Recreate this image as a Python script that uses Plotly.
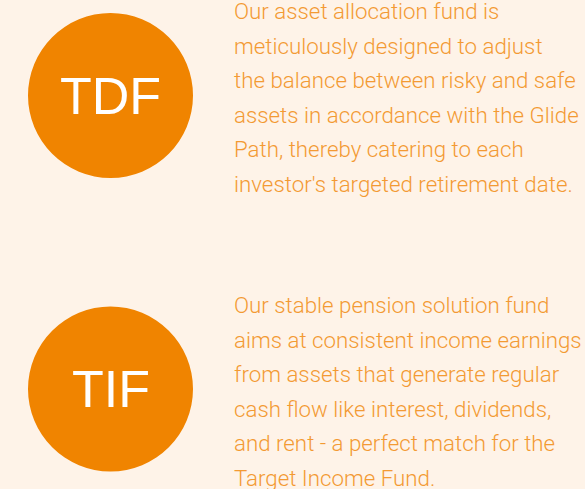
import plotly.graph_objects as go

W, H = 585, 489

# funds and their descriptions
labels = ["TDF", "TIF"]
label_y = [95.5, 389]
tdf_lines = [
    "Our asset allocation fund is",
    "meticulously designed to adjust",
    "the balance between risky and safe",
    "assets in accordance with the Glide",
    "Path, thereby catering to each",
    "investor's targeted retirement date.",
]
tif_lines = [
    "Our stable pension solution fund",
    "aims at consistent income earnings",
    "from assets that generate regular",
    "cash flow like interest, dividends,",
    "and rent - a perfect match for the",
    "Target Income Fund.",
]
paragraphs = [tdf_lines, tif_lines]
first_line_y = [11, 305]
line_step = 34.5

BG = "#FEF3E8"
CIRCLE = "#F08400"
TEXT = "#F39A33"

fig = go.Figure()

shapes = []
annotations = []
for lab, cy, lines, y0 in zip(labels, label_y, paragraphs, first_line_y):
    # round badge behind the fund code
    shapes.append(dict(
        type="circle", xref="x", yref="y",
        x0=28, x1=193, y0=cy - 82.5, y1=cy + 82.5,
        fillcolor=CIRCLE, line_width=0, layer="below",
    ))
    annotations.append(dict(
        x=110.5, y=cy, xref="x", yref="y", text=lab, showarrow=False,
        xanchor="center", yanchor="middle",
        font=dict(family="Liberation Sans, Arial", size=52, color="white"),
    ))
    for i, line in enumerate(lines):
        annotations.append(dict(
            x=232, y=y0 + i * line_step, xref="x", yref="y", text=line,
            showarrow=False, xanchor="left", yanchor="middle",
            font=dict(family="Roboto", size=22.3, weight=300, color=TEXT),
        ))

fig.update_layout(
    width=W, height=H,
    margin=dict(l=0, r=0, t=0, b=0),
    paper_bgcolor=BG, plot_bgcolor=BG,
    xaxis=dict(range=[0, W], visible=False, fixedrange=True),
    yaxis=dict(range=[H, 0], visible=False, fixedrange=True),
    shapes=shapes,
    annotations=annotations,
    showlegend=False,
)

# drop the default page margin so the figure fills the window
fig.write_html(
    "out.html",
    config={"displayModeBar": False},
    post_script="document.body.style.margin='0';document.body.style.background='%s';" % BG,
)
